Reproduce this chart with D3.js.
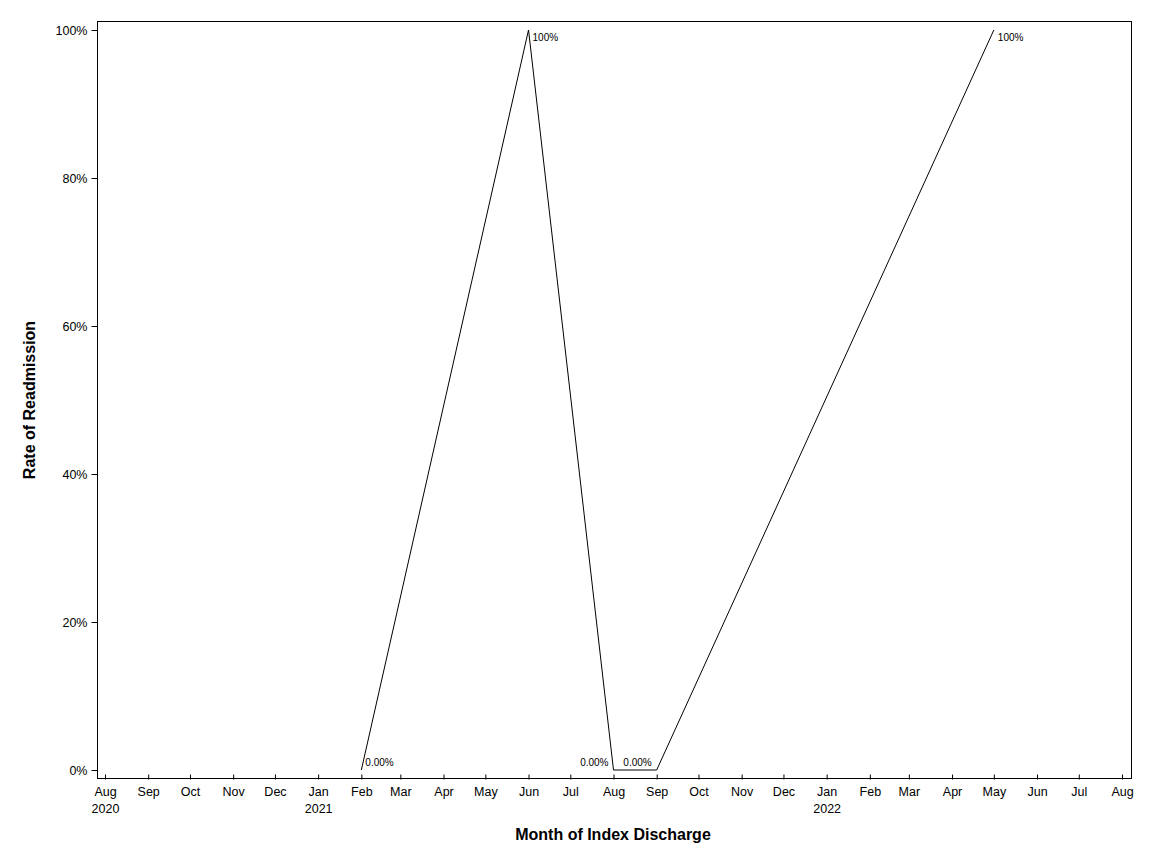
<!DOCTYPE html>
<html><head><meta charset="utf-8">
<script src="https://cdn.jsdelivr.net/npm/d3@7"></script>
<style>body{margin:0;background:#fff;}svg{display:block;font-family:"Liberation Sans",Arial,sans-serif;}</style>
</head><body><svg id="c" width="1152" height="864"></svg>
<script>
const dates = ["2021-02-01","2021-06-01","2021-08-01","2021-09-01","2022-05-01"];
const rates = [0, 1, 0, 0, 1];
const labels = ["0.00%","100%","0.00%","0.00%","100%"];
const labelSide = ["right","right","left","left","right"];
const yTicks = [0, 0.2, 0.4, 0.6, 0.8, 1];
const yTickLabels = ["0%","20%","40%","60%","80%","100%"];

const parse = d3.timeParse("%Y-%m-%d");
const svg = d3.select("#c");
const frame = {l:97, r:1131, t:21, b:778};
const x = d3.scaleTime().domain([parse("2020-08-01"), parse("2022-08-01")]).range([105, 1122]);
const y = d3.scaleLinear().domain([0,1]).range([770, 30]);

// frame
svg.append("rect").attr("x",frame.l+0.5).attr("y",frame.t+0.5)
  .attr("width",frame.r-frame.l).attr("height",frame.b-frame.t)
  .attr("fill","none").attr("stroke","#000").attr("stroke-width",1);

// y axis
const yAxis = d3.axisLeft(y).tickValues(yTicks).tickSize(6).tickPadding(4)
  .tickFormat((d,i)=>yTickLabels[i]);
const gy = svg.append("g").attr("transform",`translate(${frame.l+0.5},0)`).call(yAxis);
gy.select(".domain").remove();
gy.selectAll("text").attr("font-size",12.5).attr("font-family","Liberation Sans, Arial, sans-serif").attr("fill","#000");
gy.selectAll("line").attr("stroke","#000");

// x axis
const months = d3.timeMonth.range(parse("2020-08-01"), parse("2022-08-02"));
const xAxis = d3.axisBottom(x).tickValues(months).tickSizeInner(-4).tickSizeOuter(0).tickPadding(9)
  .tickFormat(d3.timeFormat("%b"));
const gx = svg.append("g").attr("transform",`translate(0,${frame.b+0.5})`).call(xAxis);
gx.select(".domain").remove();
gx.selectAll("line").attr("stroke","#000").attr("y1",1);
gx.selectAll("text").attr("font-size",12.5).attr("font-family","Liberation Sans, Arial, sans-serif").attr("fill","#000");
gx.selectAll(".tick").each(function(d,i){
  const isFirst = i===0;
  if (isFirst || (d.getMonth()===0)) {
    d3.select(this).append("text").attr("y",26).attr("dy","0.71em").attr("fill","#000")
      .attr("font-size",12.5).attr("font-family","Liberation Sans, Arial, sans-serif")
      .text(d.getFullYear());
  }
});

// line
const pts = dates.map((d,i)=>({d:parse(d), v:rates[i], l:labels[i], s:labelSide[i]}));
svg.append("path").datum(pts)
  .attr("d", d3.line().x(p=>x(p.d)).y(p=>y(p.v)))
  .attr("fill","none").attr("stroke","#000").attr("stroke-width",1);

// data labels
svg.append("g").selectAll("text").data(pts).join("text")
  .attr("x", p => x(p.d) + (p.s==="right" ? 4 : -5))
  .attr("y", p => p.v >= 0.5 ? y(p.v)+11 : y(p.v)-4)
  .attr("text-anchor", p => p.s==="right" ? "start" : "end")
  .attr("font-size",10).attr("fill","#000")
  .text(p=>p.l);

// titles
svg.append("text").attr("x",613).attr("y",840).attr("text-anchor","middle")
  .attr("font-size",16).attr("font-weight","bold").text("Month of Index Discharge");
svg.append("text").attr("transform","translate(35,400) rotate(-90)").attr("text-anchor","middle")
  .attr("font-size",16).attr("font-weight","bold").text("Rate of Readmission");
</script></body></html>
